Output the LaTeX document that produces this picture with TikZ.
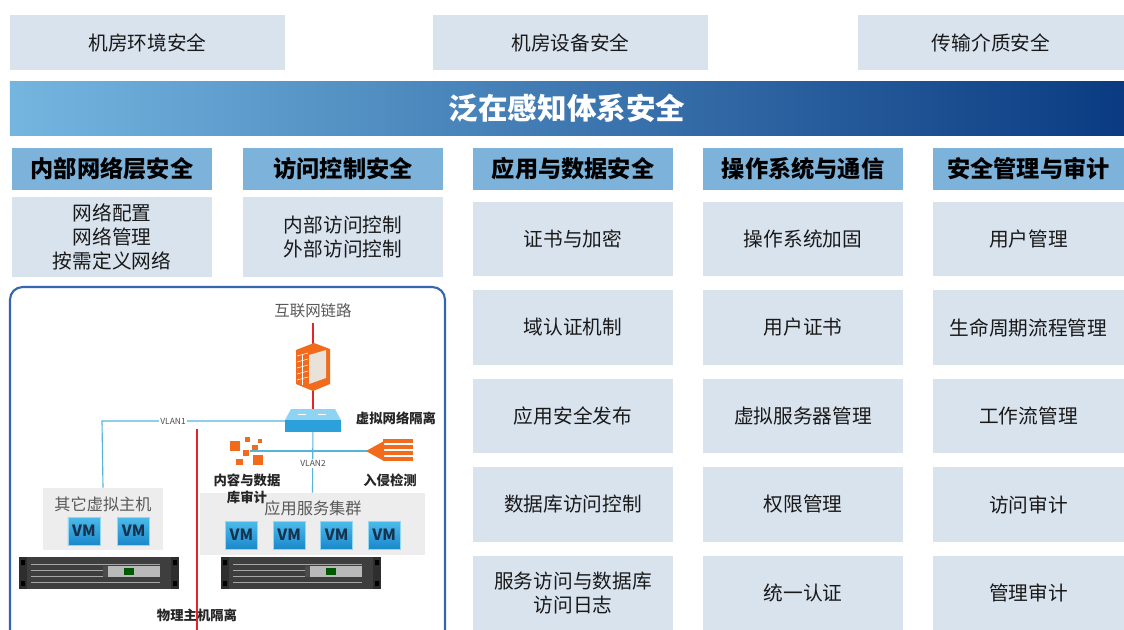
\documentclass[tikz,border=0pt]{standalone}
\usepackage{fontspec}
\setmainfont{Noto Sans CJK SC}
\usetikzlibrary{positioning}

\definecolor{boxgray}{HTML}{D9E3EE}
\definecolor{headblue}{HTML}{7DB3DA}
\definecolor{bandL}{HTML}{74B6E0}
\definecolor{bandR}{HTML}{0A3B82}
\definecolor{panelblue}{HTML}{3467B0}
\definecolor{vlanblue}{HTML}{55B4DC}
\definecolor{linkred}{HTML}{E0262B}
\definecolor{orangeic}{HTML}{F26A1B}
\definecolor{fwface}{HTML}{E8E2D8}
\definecolor{vmtop}{HTML}{4CBCEC}
\definecolor{vmbot}{HTML}{1A88CA}
\definecolor{vmtext}{HTML}{17324F}
\definecolor{hostgray}{HTML}{EDEDED}
\definecolor{rack}{HTML}{2E2E2E}
\definecolor{rackbody}{HTML}{3E3E3E}
\definecolor{swtop}{HTML}{8FD3F2}
\definecolor{swfront}{HTML}{2BA0DA}

\begin{document}
\begin{tikzpicture}[x=0.025cm, y=-0.025cm,
  topbox/.style={fill=boxgray, minimum width=6.875cm, minimum height=1.375cm, text=black!90, font=\fontsize{14}{16}\selectfont},
  head/.style={fill=headblue, minimum width=5cm, minimum height=1.05cm, font=\bfseries\fontsize{16.5}{18}\selectfont},
  cell/.style={fill=boxgray, minimum width=5cm, minimum height=1.85cm, align=center, text=black!90, font=\fontsize{14}{16.5}\selectfont},
  tag/.style={font=\fontsize{11}{13}\selectfont, text=black!65},
  icontag/.style={font=\bfseries\fontsize{9.5}{12}\selectfont, text=black!85, align=center},
  vm/.style={top color=vmtop, bottom color=vmbot, draw=vmtop!60, minimum width=0.8cm, minimum height=0.7cm, inner sep=0pt, text=vmtext, font=\bfseries\fontsize{11}{12}\selectfont},
  vlan/.style={draw=vlanblue, line width=0.8pt},
  redline/.style={draw=linkred, line width=1.6pt},
  vlantag/.style={fill=white, inner sep=1pt, text=black!70, font=\fontsize{6}{7}\selectfont},
]
\useasboundingbox (0,0) rectangle (1124,630);
\fill[white] (0,0) rectangle (1124,630);

% physical layer
\node[topbox] (env) at (147.5,42.5) {机房环境安全};
\node[topbox] (equip) at (570.5,42.5) {机房设备安全};
\node[topbox, minimum width=6.65cm] (media) at (991,42.5) {传输介质安全};

% banner
\node[left color=bandL, right color=bandR, minimum width=27.85cm, minimum height=1.325cm,
      text=white, font=\bfseries\fontsize{21}{24}\selectfont] (banner) at (567,108.5) {泛在感知体系安全};

% column headers
\node[head] (h1) at (112,169) {内部网络层安全};
\node[head] (h2) at (343,169) {访问控制安全};
\node[head] (h3) at (573,169) {应用与数据安全};
\node[head] (h4) at (803,169) {操作系统与通信};
\node[head, minimum width=4.775cm] (h5) at (1028.5,169) {安全管理与审计};

\node[cell, minimum height=2cm, font=\fontsize{14}{17}\selectfont] (net1) at (112,237) {网络配置\\网络管理\\按需定义网络};
\node[cell, minimum height=2cm, font=\fontsize{14}{16.5}\selectfont] (acc1) at (343,237) {内部访问控制\\外部访问控制};

\foreach \t [count=\i] in {证书与加密,域认证机制,应用安全发布,数据库访问控制,{服务访问与数据库\\访问日志}}
  \node[cell] (app\i) at (573,{239+88.5*(\i-1)}) {\t};
\foreach \t [count=\i] in {操作系统加固,用户证书,虚拟服务器管理,权限管理,统一认证}
  \node[cell] (os\i) at (803,{239+88.5*(\i-1)}) {\t};
\foreach \t [count=\i] in {用户管理,生命周期流程管理,工作流管理,访问审计,管理审计}
  \node[cell, minimum width=4.775cm] (mgmt\i) at (1028.5,{239+88.5*(\i-1)}) {\t};

% network panel
\draw[panelblue, line width=1.5pt, rounded corners=9pt] (10,287) rectangle (445,650);

\node[tag] (inet) at (313,311) {互联网链路};
\node[icontag] (vnet) at (396,418) {虚拟网络隔离};

\node[fill=hostgray, minimum width=3cm, minimum height=1.55cm] (others) at (103,519) {};
\node[tag, font=\fontsize{11.5}{13}\selectfont] (otherslbl) at (103,504) {其它虚拟主机};
\node[fill=hostgray, minimum width=5.625cm, minimum height=1.55cm] (cluster) at (312.5,524) {};
\node[tag, font=\fontsize{11.5}{13}\selectfont] (clusterlbl) at (313,508) {应用服务集群};

\node[vm] (vm1) at (84,531) {VM};
\node[vm, right=0.425cm of vm1] (vm2) {VM};
\node[vm] (vm3) at (241.5,535) {VM};
\node[vm, right=0.375cm of vm3] (vm4) {VM};
\node[vm, right=0.375cm of vm4] (vm5) {VM};
\node[vm, right=0.375cm of vm5] (vm6) {VM};

\coordinate (sw) at (313,421);
\coordinate (fw) at (313,366);
\coordinate (audit) at (250,451);
\coordinate (ids) at (368,451);
\coordinate (vlanA) at (102,421);

% links
\draw[redline] (inet.south) -- (sw);
\draw[vlan] (sw) -- (vlanA) -- (others.north);
\node[vlantag] (vlan1) at (173,421) {VLAN1};
\draw[vlan] (sw) -- (cluster.north);
\node[vlantag] (vlan2) at (313,463) {VLAN2};
\draw[vlan] (audit) -- (ids);

% firewall
\fill[orangeic] (296,350) -- (314,343) -- (330,349) -- (330,384) -- (313,391) -- (296,384) -- cycle;
\fill[fwface] (309,355) -- (326,350) -- (326,378) -- (309,384) -- cycle;
\foreach \yy in {356,362,368,374,380}
  \draw[white, line width=0.4pt] (297,\yy) -- (308,{\yy-3});
\draw[white, line width=0.4pt] (302,355) -- (302,385);

% switch
\fill[swtop] (291,409) -- (335,409) -- (341,420) -- (285,420) -- cycle;
\fill[swfront] (285,420) rectangle (341,432);
\draw[white, line width=0.6pt] (298,414) -- (306,414) (318,414) -- (326,414);

% audit icon
\fill[orangeic] (230,441) rectangle (240,451);
\fill[orangeic] (245,437) rectangle (250,442);
\fill[orangeic] (252,445) rectangle (258,450);
\fill[orangeic] (243,450) rectangle (249,456);
\fill[orangeic] (253,455) rectangle (263,465);
\fill[orangeic] (236,459) rectangle (243,465);
\fill[orangeic] (258,439) rectangle (262,443);
\node[icontag] (auditlbl) at (247,489) {内容与数据\\库审计};

% intrusion detection icon
\foreach \yy in {439,445,451,457}
  \fill[orangeic] (383,\yy) rectangle (413,{\yy+4});
\fill[orangeic] (366,451) -- (384,441) -- (384,461) -- cycle;
\node[icontag] (idslbl) at (390,480) {入侵检测};

% rack servers
\foreach \dx/\n in {0/srvA,202/srvB} {
  \begin{scope}[shift={(\dx,0)}]
    \fill[rack] (19,557) rectangle (27,589);
    \fill[rack] (171,557) rectangle (179,589);
    \fill[black] (21,560) rectangle (25,565) (21,581) rectangle (25,586)
                 (173,560) rectangle (177,565) (173,581) rectangle (177,586);
    \node[fill=rackbody, minimum width=3.6cm, minimum height=0.8cm, inner sep=0pt] (\n) at (99,573) {};
    \foreach \yy in {564,570,576,582}
      \draw[gray!70, line width=0.5pt] (31,\yy) -- (160,\yy);
    \fill[gray!55] (103,566) rectangle (160,577);
    \fill[black!70] (103,566) -- (108,566) -- (108,577) -- (103,577) -- cycle;
    \fill[green!35!black] (124,568) rectangle (134,575);
  \end{scope}
}

\node[icontag] (physlbl) at (197,615) {物理主机隔离};
\coordinate (physA) at (197,429);
\coordinate (physB) at (197,640);
\draw[redline] (physA) -- (physB);
\end{tikzpicture}
\end{document}
